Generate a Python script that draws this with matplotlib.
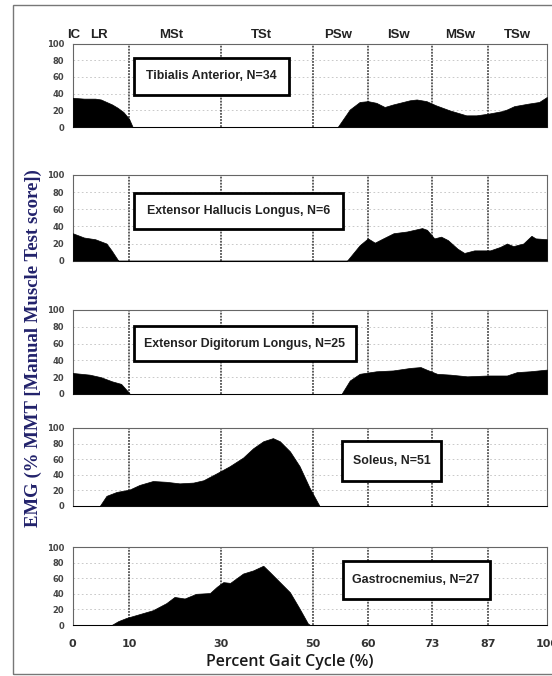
from matplotlib.pyplot import figure
from matplotlib.patches import Rectangle
from matplotlib.transforms import blended_transform_factory
from numpy import interp, array

# Phase boundaries (percent of gait cycle) and the names of the phases
phase_bounds = [0, 10, 30, 50, 60, 73, 87, 100]
phase_names = ['IC', 'LR', 'MSt', 'TSt', 'PSw', 'ISw', 'MSw', 'TSw']
phase_label_x = [0.1, 4.7, 19.1, 38.9, 54.5, 66.1, 80.0, 93.6]
x_ticks = [0, 10, 30, 50, 60, 73, 87, 100]
y_ticks = [0, 20, 40, 60, 80, 100]

# Muscle names / subject counts
muscles = ['Tibialis Anterior, N=34', 'Extensor Hallucis Longus, N=6',
           'Extensor Digitorum Longus, N=25', 'Soleus, N=51', 'Gastrocnemius, N=27']

# EMG envelopes (% MMT)
ta_x = [0, 2, 4, 5, 6, 7, 8, 9, 10, 10.8, 54.5, 56.7, 58.5, 60, 61.7, 63.4, 65.1, 68.5, 69.9,
        71.9, 74, 77.4, 81.6, 84.1, 87.1, 90.1, 91.2, 92.8, 95.9, 98.3, 100]
ta_y = [35, 34, 34, 33, 30, 27, 23, 18, 10, 0, 0, 21, 30, 31, 29, 24, 27, 32, 33,
        31, 26, 20, 14, 14, 16, 19, 21, 25, 28, 30, 36]

ehl_x = [0, 2, 4, 6, 6.9, 8.1, 56.2, 58.5, 60, 61.4, 63.1, 65.2, 67.9, 71, 72, 73.6, 75.3, 77,
         79.4, 81.1, 83.6, 87.5, 89.7, 91.2, 92.6, 94.8, 96.6, 97.5, 100]
ehl_y = [32, 27, 25, 20, 12, 0, 0, 18, 26, 21, 26, 32, 34, 38, 36, 26, 28, 24,
         14, 9, 12, 12, 16, 20, 17, 20, 29, 26, 25]

edl_x = [0, 3, 5, 7, 8.6, 9.8, 10.2, 55.2, 56.7, 58.5, 61.7, 65.1, 68.6, 70.7, 71.9, 74.3,
         77.6, 81.8, 87, 91.2, 93.4, 96.3, 100]
edl_y = [25, 23, 20, 15, 12, 3, 0, 0, 16, 24, 27, 28, 31, 32, 29, 24,
         23, 21, 22, 22, 26, 27, 29]

sol_x = [0, 4.8, 6, 7.8, 10.1, 12.3, 15.2, 18.1, 21, 24, 26.2, 29.1, 31.9, 34.8, 37, 39.2,
         41.3, 42.8, 45, 47.1, 49.3, 51.2, 100]
sol_y = [0, 0, 13, 18, 21, 27, 32, 31, 29, 30, 33, 42, 51, 62, 74, 83,
         87, 83, 70, 51, 23, 0, 0]

gas_x = [0, 6.9, 8.1, 9.5, 12.3, 15.2, 18.1, 19.9, 22.1, 24.6, 27.6, 29.1, 30.5, 32, 34.8, 37,
         39.2, 40.6, 42.8, 45, 47.1, 48.9, 49.4, 100]
gas_y = [0, 0, 5, 9, 14, 19, 28, 36, 34, 40, 41, 49, 55, 54, 66, 70,
         76, 68, 55, 42, 21, 2, 0, 0]

series = [(ta_x, ta_y), (ehl_x, ehl_y), (edl_x, edl_y), (sol_x, sol_y), (gas_x, gas_y)]

# ---- layout / style -------------------------------------------------------
# the original figure has unequal phase widths along x: piecewise scale
phase_pix = array([72.7, 129, 221, 313, 368, 432, 488, 547])
phase_pix = (phase_pix - phase_pix[0]) / (phase_pix[-1] - phase_pix[0]) * 100


def fwd(x):
    return interp(x, phase_bounds, phase_pix)


def inv(p):
    return interp(p, phase_pix, phase_bounds)


# panel rectangles in figure fractions (left, bottom, width, height)
panel_bottoms = [0.8121, 0.6144, 0.4172, 0.2515, 0.0754]
panel_heights = [0.1235, 0.1268, 0.1243, 0.1154, 0.1154]
left, width = 0.1317, 0.859

# label box corners (x0, x1, y0, y1) in data units
boxes = [(11.1, 44.8, 38.7, 82.6), (11.1, 55.4, 36.6, 79.4), (11.1, 57.8, 38.7, 81.4),
         (55.2, 75.4, 31.9, 83.0), (55.4, 87.4, 34.0, 81.7)]

fig = figure(figsize=(5.52, 6.76), dpi=100)
fig.patches.append(Rectangle((13 / 552, 2 / 676), 1.05, 669 / 676, transform=fig.transFigure,
                             fill=False, edgecolor='#777777', linewidth=1.0))

axes = []
for i in range(5):
    ax = fig.add_axes([left, panel_bottoms[i], width, panel_heights[i]])
    ax.set_xscale('function', functions=(fwd, inv))
    ax.set_xlim(0, 100)
    ax.set_ylim(0, 100)
    for h in [20, 40, 60, 80]:
        ax.axhline(h, color='#c0c0c0', linewidth=0.6, linestyle=(0, (2, 3)), zorder=1)
    for b in phase_bounds[1:-1]:
        ax.axvline(b, color='#333333', linewidth=1.1, linestyle=(0, (1.2, 0.8)), zorder=2)
    ax.fill_between(series[i][0], series[i][1], 0, color='black', linewidth=0.5, zorder=3)

    x0, x1, y0, y1 = boxes[i]
    ax.add_patch(Rectangle((x0, y0), x1 - x0, y1 - y0, fill=True, facecolor='white',
                           edgecolor='black', linewidth=2.0, zorder=4))
    ax.text(inv((fwd(x0) + fwd(x1)) / 2), (y0 + y1) / 2, muscles[i], ha='center', va='center',
            fontsize=8.9, fontweight='bold', family='Liberation Sans', color='#222222', zorder=5)

    for s in ax.spines.values():
        s.set_color('#666666')
        s.set_linewidth(0.8)
    ax.set_yticks(y_ticks)
    ax.set_yticklabels([str(t) for t in y_ticks], fontsize=6, fontweight='bold', color='#444444')
    ax.tick_params(axis='y', length=0, pad=6)
    ax.set_xticks(x_ticks)
    if i < 4:
        ax.set_xticklabels([])
        ax.tick_params(axis='x', length=0)
    else:
        ax.set_xticklabels([str(t) for t in x_ticks], fontsize=8, fontweight='bold', color='#333333')
        ax.tick_params(axis='x', length=0, pad=10)
    axes.append(ax)

# phase names above the top panel
trans = blended_transform_factory(axes[0].transData, axes[0].transAxes)
for name, px in zip(phase_names, phase_label_x):
    axes[0].text(px, 1.1, name, transform=trans, ha='center', va='center', fontsize=9.5,
                 fontweight='bold', family='Liberation Sans', color='#222222')

fig.text(33 / 552, 1 - 348 / 676, 'EMG (% MMT [Manual Muscle Test score])', rotation=90,
         ha='center', va='center', fontsize=13.5, fontweight='bold', family='Liberation Serif',
         color='#22226b')
fig.text(290 / 552, 1 - 662 / 676, 'Percent Gait Cycle (%)', ha='center', va='center',
         fontsize=11.5, fontweight='semibold', family='Open Sans', color='#1a1a1a')

fig.savefig('out.png', dpi=100)
